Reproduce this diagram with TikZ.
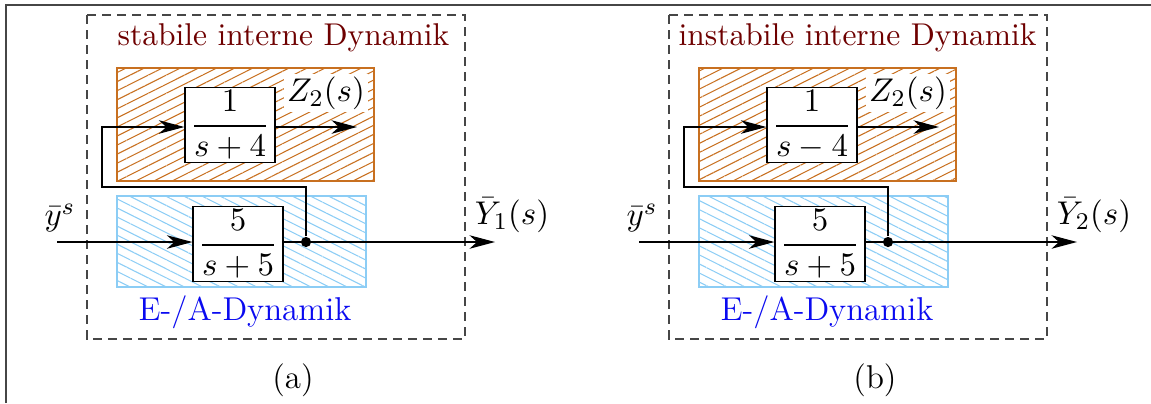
\documentclass[tikz,border=0pt]{standalone}
\usepackage{amsmath}
\usetikzlibrary{arrows.meta,patterns.meta}
\definecolor{hatchorange}{RGB}{200,112,32}
\definecolor{hatchblue}{RGB}{140,205,245}
\definecolor{titlered}{RGB}{110,0,0}
\definecolor{labelblue}{RGB}{10,10,240}
\definecolor{framegray}{RGB}{70,70,70}
\tikzset{
  every node/.append style={font=\fontsize{11}{13}\selectfont},
  blk/.style={draw, fill=white, minimum width=30pt, minimum height=22.7pt, inner sep=1pt},
  arr/.style={draw, line width=0.4pt, -{Stealth[length=8.5pt,width=4.5pt,inset=2.5pt]}},
  conn/.style={draw, line width=0.4pt},
  dashbox/.style={draw=framegray, dash pattern=on 3pt off 2pt, line width=0.45pt},
  titletext/.style={text=titlered, inner sep=0pt, font=\fontsize{10.5}{12.5}\selectfont},
  eatext/.style={text=labelblue, inner sep=0pt},
  dotnode/.style={circle, fill=black, minimum size=3.4pt, inner sep=0pt},
  zlabel/.style={fill=white, inner sep=1pt},
  orangehatch/.style={pattern={Lines[angle=26.6,distance=2.7pt,line width=0.35pt]}, pattern color=hatchorange},
  bluehatch/.style={pattern={Lines[angle=-26.6,distance=2.7pt,line width=0.35pt]}, pattern color=hatchblue},
}
\newcommand\drawpanel[7]{% prefix, xshift, title, title x, sign, output index, caption
\begin{scope}[shift={(#2,0)}]
  \draw[dashbox] (87,15) rectangle (465,339);
  \node[titletext] (#1title) at (#4,38) {#3};
  \path[orangehatch] (117,68) rectangle (374,181);
  \draw[hatchorange, line width=0.45pt] (117,68) rectangle (374,181);
  \path[bluehatch] (117,196) rectangle (366,287);
  \draw[hatchblue, line width=0.45pt] (117,196) rectangle (366,287);
  \node[blk] (#1g1) at (230,125) {$\dfrac{1}{s#5 4}$};
  \node[blk] (#1g2) at (238,244) {$\dfrac{5}{s+5}$};
  \node[zlabel] (#1zl) at (326,93) {$Z_2(s)$};
  \coordinate (#1z) at (357,127);
  \coordinate (#1in) at (57,242);
  \coordinate (#1out) at (495,242);
  \node[dotnode] (#1dot) at (306,242) {};
  \coordinate (#1fb1) at (306,187);
  \coordinate (#1fb2) at (102,187);
  \draw[arr] (#1g1.east |- #1z) -- (#1z);
  \draw[arr] (#1in) -- (#1in -| #1g2.west);
  \draw[arr] (#1dot -| #1g2.east) -- (#1out);
  \draw[arr] (#1dot) -- (#1fb1) -- (#1fb2) |- (#1z -| #1g1.west);
  \node (#1ys) at (60,218) {$\bar y^s$};
  \node (#1Y) at (512,215) {$\bar Y_{#6}(s)$};
  \node[eatext] (#1ea) at (245,312) {E-/A-Dynamik};
  \node (#1cap) at (293,380) {#7};
\end{scope}}
\begin{document}
\begin{tikzpicture}[x=0.3333pt,y=-0.3333pt]
\useasboundingbox (0,0) rectangle (1151,403);
\coordinate (frameA) at (6,403);
\coordinate (frameB) at (6,5);
\coordinate (frameC) at (1151,5);
\draw[framegray, line width=0.5pt] (frameA) -- (frameB) -- (frameC);
\drawpanel{a}{0}{stabile interne Dynamik}{283.5}{+}{1}{(a)}
\drawpanel{b}{582}{instabile interne Dynamik}{275.5}{-}{2}{(b)}
\end{tikzpicture}
\end{document}
